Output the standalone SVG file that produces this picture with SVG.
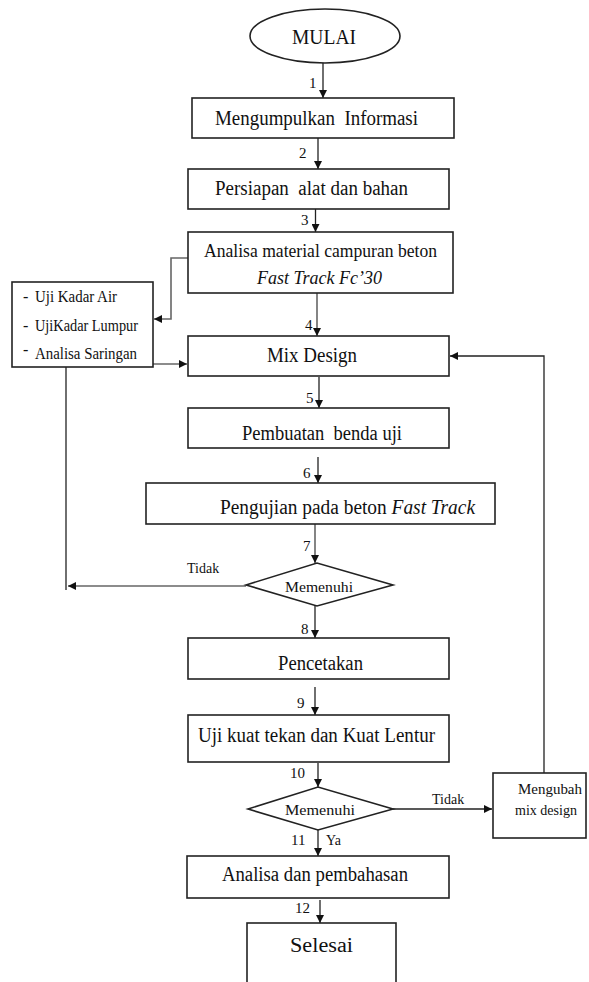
<svg xmlns="http://www.w3.org/2000/svg" width="589" height="982" viewBox="0 0 589 982">
<defs>
<marker id="ah" viewBox="0 0 10 10" refX="10" refY="5" markerWidth="8" markerHeight="8" markerUnits="userSpaceOnUse" orient="auto">
<path d="M0,0 L10,5 L0,10 z" fill="#111"/>
</marker>
<style>
.box{fill:#fff;stroke:#222;stroke-width:1.6}
.t{font-family:"Liberation Serif","Times New Roman",serif;fill:#111;text-anchor:start}
.c{text-anchor:middle}
.big{font-size:20px}
.mid{font-size:18px}
.sm{font-size:16px}
.xs{font-size:15px}
.num{font-family:"Liberation Serif","Times New Roman",serif;font-size:15px;fill:#111}
.ln{fill:none;stroke:#222;stroke-width:1.3}
.gl{fill:none;stroke:#666;stroke-width:1.6}
.i{font-style:italic}
</style>
</defs>
<rect width="589" height="982" fill="#fff"/>

<g id="connectors">
<line class="ln" x1="323" y1="63" x2="323" y2="98" marker-end="url(#ah)"/>
<line class="ln" x1="318" y1="138" x2="318" y2="169" marker-end="url(#ah)"/>
<line class="ln" x1="315.5" y1="209" x2="315.5" y2="232" marker-end="url(#ah)"/>
<line class="gl" x1="317" y1="293" x2="317" y2="336" marker-end="url(#ah)"/>
<line class="ln" x1="319" y1="377" x2="319" y2="408" marker-end="url(#ah)"/>
<line class="ln" x1="318" y1="457" x2="318" y2="483" marker-end="url(#ah)"/>
<line class="gl" x1="315" y1="524" x2="315" y2="563" marker-end="url(#ah)"/>
<line class="ln" x1="315" y1="606" x2="315" y2="638" marker-end="url(#ah)"/>
<line class="ln" x1="315" y1="687" x2="315" y2="715" marker-end="url(#ah)"/>
<line class="ln" x1="318" y1="763" x2="318" y2="787" marker-end="url(#ah)"/>
<line class="ln" x1="318" y1="830" x2="318" y2="856" marker-end="url(#ah)"/>
<line class="ln" x1="320" y1="900" x2="320" y2="923" marker-end="url(#ah)"/>
<polyline class="gl" points="188,258 171,258 171,319 154,319" marker-end="url(#ah)"/>
<line class="gl" x1="66" y1="364" x2="187" y2="364" marker-end="url(#ah)"/>
<line class="ln" x1="66" y1="364" x2="66" y2="590"/>
<line class="gl" x1="246" y1="586" x2="68" y2="586" marker-end="url(#ah)"/>
<polyline class="ln" points="544,773 544,356 450,356" marker-end="url(#ah)"/>
<line class="ln" x1="393" y1="809" x2="492" y2="809" marker-end="url(#ah)"/>
</g>

<g id="mulai">
<ellipse cx="325" cy="36" rx="75" ry="27" fill="#fff" stroke="#222" stroke-width="1.6"/>
<text class="t c big" x="324" y="44" textLength="64" lengthAdjust="spacingAndGlyphs">MULAI</text>
</g>

<g id="n1">
<rect class="box" x="192" y="98" width="262" height="40"/>
<text class="t big" x="215" y="125" textLength="203" lengthAdjust="spacingAndGlyphs">Mengumpulkan&#160; Informasi</text>
</g>

<g id="n2">
<rect class="box" x="188" y="169" width="261" height="40"/>
<text class="t big" x="215" y="195" textLength="193" lengthAdjust="spacingAndGlyphs">Persiapan&#160; alat dan bahan</text>
</g>

<g id="n3">
<rect class="box" x="188" y="232" width="265" height="61"/>
<text class="t mid" x="204" y="257" textLength="233" lengthAdjust="spacingAndGlyphs">Analisa material campuran beton</text>
<text class="t mid i" x="257" y="284" textLength="125" lengthAdjust="spacingAndGlyphs">Fast Track Fc’30</text>
</g>

<g id="side">
<rect class="box" x="12" y="282" width="141" height="85"/>
<text class="t sm" x="23" y="302">-</text>
<text class="t sm" x="35" y="302" textLength="82" lengthAdjust="spacingAndGlyphs">Uji Kadar Air</text>
<text class="t sm" x="23" y="331">-</text>
<text class="t sm" x="35" y="331" textLength="103" lengthAdjust="spacingAndGlyphs">UjiKadar Lumpur</text>
<text class="t sm" x="23" y="355">-</text>
<text class="t sm" x="35" y="359" textLength="102" lengthAdjust="spacingAndGlyphs">Analisa Saringan</text>
</g>

<g id="mix">
<rect class="box" x="188" y="336" width="261" height="40"/>
<text class="t big" x="267" y="362" textLength="90" lengthAdjust="spacingAndGlyphs">Mix Design</text>
</g>

<g id="pembuatan">
<rect class="box" x="188" y="408" width="261" height="40"/>
<text class="t big" x="242" y="440" textLength="160" lengthAdjust="spacingAndGlyphs">Pembuatan&#160; benda uji</text>
</g>

<g id="pengujian">
<rect class="box" x="146" y="483" width="349" height="41"/>
<text class="t big" x="220" y="514" textLength="255" lengthAdjust="spacingAndGlyphs">Pengujian pada beton <tspan class="i">Fast Track</tspan></text>
</g>

<g id="dec1">
<polygon points="246,585 317,563 393,585 317,606" fill="#fff" stroke="#222" stroke-width="1.6"/>
<text class="t xs" x="285" y="592" textLength="68" lengthAdjust="spacingAndGlyphs">Memenuhi</text>
</g>

<g id="pencetakan">
<rect class="box" x="188" y="638" width="261" height="41"/>
<text class="t big" x="278" y="670" textLength="85" lengthAdjust="spacingAndGlyphs">Pencetakan</text>
</g>

<g id="ujikuat">
<rect class="box" x="188" y="715" width="261" height="47"/>
<text class="t big" x="198" y="742" textLength="237" lengthAdjust="spacingAndGlyphs">Uji kuat tekan dan Kuat Lentur</text>
</g>

<g id="dec2">
<polygon points="248,809 318,787 393,809 318,830" fill="#fff" stroke="#222" stroke-width="1.6"/>
<text class="t xs" x="285" y="815" textLength="70" lengthAdjust="spacingAndGlyphs">Memenuhi</text>
</g>

<g id="mengubah">
<rect class="box" x="493" y="773" width="93" height="65"/>
<text class="t xs" x="518" y="794" textLength="64" lengthAdjust="spacingAndGlyphs">Mengubah</text>
<text class="t xs" x="515" y="815" textLength="62" lengthAdjust="spacingAndGlyphs">mix design</text>
</g>

<g id="analisa">
<rect class="box" x="187" y="856" width="262" height="42"/>
<text class="t big" x="222" y="881" textLength="186" lengthAdjust="spacingAndGlyphs">Analisa dan pembahasan</text>
</g>

<g id="selesai">
<rect class="box" x="247" y="923" width="149" height="80"/>
<text class="t big" x="290" y="952" textLength="63" lengthAdjust="spacingAndGlyphs">Selesai</text>
</g>

<g id="labels">
<text class="num" x="309" y="88">1</text>
<text class="num" x="299" y="158">2</text>
<text class="num" x="301" y="225">3</text>
<text class="num" x="305" y="330">4</text>
<text class="num" x="306" y="403">5</text>
<text class="num" x="303" y="478">6</text>
<text class="num" x="303" y="551">7</text>
<text class="num" x="301" y="634">8</text>
<text class="num" x="297" y="708">9</text>
<text class="num" x="290" y="778">10</text>
<text class="num" x="291" y="845">11</text>
<text class="num" x="295" y="913">12</text>
<text class="t" style="font-size:14px" x="187" y="573">Tidak</text>
<text class="t" style="font-size:14px" x="432" y="804">Tidak</text>
<text class="t" style="font-size:14px" x="326" y="845">Ya</text>
</g>
</svg>
